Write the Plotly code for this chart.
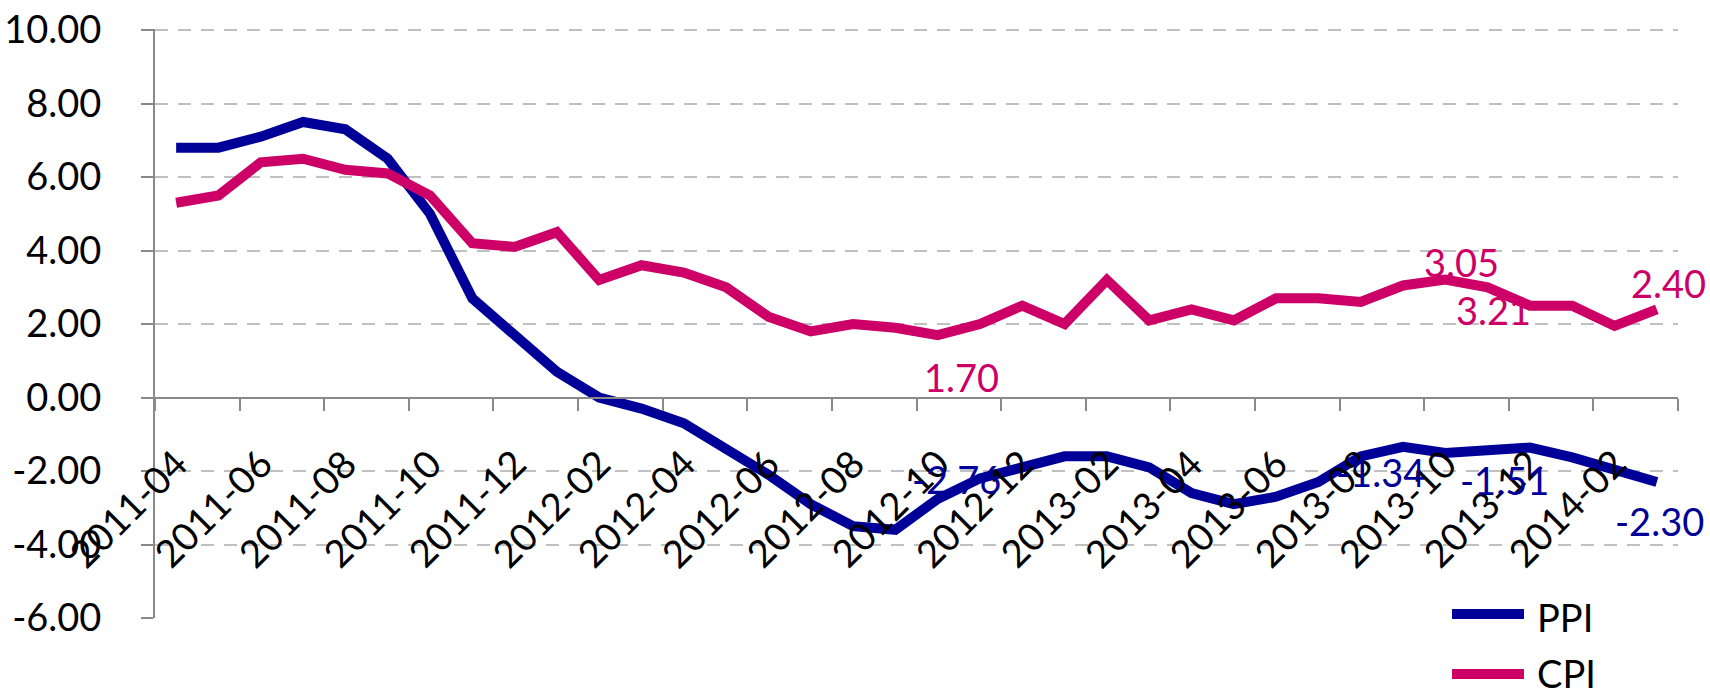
import plotly.graph_objects as go

# ---------------- data ----------------
months = [
    "2011-04", "2011-05", "2011-06", "2011-07", "2011-08", "2011-09",
    "2011-10", "2011-11", "2011-12", "2012-01", "2012-02", "2012-03",
    "2012-04", "2012-05", "2012-06", "2012-07", "2012-08", "2012-09",
    "2012-10", "2012-11", "2012-12", "2013-01", "2013-02", "2013-03",
    "2013-04", "2013-05", "2013-06", "2013-07", "2013-08", "2013-09",
    "2013-10", "2013-11", "2013-12", "2014-01", "2014-02", "2014-03",
]
ppi = [6.8, 6.8, 7.1, 7.5, 7.3, 6.5, 5.0, 2.7, 1.7, 0.7, 0.0, -0.3,
       -0.7, -1.4, -2.1, -2.9, -3.5, -3.6, -2.76, -2.2, -1.9, -1.6, -1.6, -1.9,
       -2.6, -2.9, -2.7, -2.3, -1.6, -1.34, -1.51, -1.42, -1.36, -1.63, -2.0, -2.30]
cpi = [5.3, 5.5, 6.4, 6.5, 6.2, 6.1, 5.5, 4.2, 4.1, 4.5, 3.2, 3.6,
       3.4, 3.0, 2.2, 1.8, 2.0, 1.9, 1.70, 2.0, 2.5, 2.0, 3.2, 2.1,
       2.4, 2.1, 2.7, 2.7, 2.6, 3.05, 3.21, 3.0, 2.5, 2.5, 1.95, 2.40]
series_names = ["PPI", "CPI"]
y_ticks = [-6, -4, -2, 0, 2, 4, 6, 8, 10]
y_tick_labels = [f"{v:.2f}" for v in y_ticks]

ppi_label_idx = [18, 29, 30, 35]
cpi_label_idx = [18, 29, 30, 35]

# ---------------- style ----------------
FONT = "Lato"
FS = 38
C_PPI = "#000099"
C_CPI = "#CC0066"
AXIS_C = "#898989"
GRID_C = "#C0C0C0"
LW = 10

# label pixel offsets (xshift, yshift)
ppi_label_off = [(19, 20), (-23, -25), (59, -27), (3, -39)]
cpi_label_off = [(24, -42), (58, 23), (48, -30), (12, 26)]

n = len(months)
xs = list(range(n))
ymin, ymax = y_ticks[0], y_ticks[-1] + 0.03

W, H = 1710, 696
L, T = 155, 29
R = W - 1678
B = H - 618
pw, ph = W - L - R, H - T - B

def px2x(px):
    return (px - L) / pw

def px2y(py):
    return (H - B - py) / ph

fig = go.Figure()
fig.add_trace(go.Scatter(x=xs, y=ppi, mode="lines", name=series_names[0],
                         line=dict(color=C_PPI, width=LW), showlegend=False))
fig.add_trace(go.Scatter(x=xs, y=cpi, mode="lines", name=series_names[1],
                         line=dict(color=C_CPI, width=LW), showlegend=False))

annotations = []
# category labels (rotated)
for i in range(0, n, 2):
    annotations.append(dict(
        x=i, y=0, xref="x", yref="y", text=months[i], showarrow=False,
        textangle=-45, xanchor="center", yanchor="middle",
        xshift=-49, yshift=-110,
        font=dict(family=FONT, size=FS, color="black")))

# data labels
for idx, (dx, dy) in zip(ppi_label_idx, ppi_label_off):
    annotations.append(dict(
        x=idx, y=ppi[idx], xref="x", yref="y", text=f"{ppi[idx]:.2f}",
        showarrow=False, xanchor="center", yanchor="middle",
        xshift=dx, yshift=dy, font=dict(family=FONT, size=FS, color=C_PPI)))
for idx, (dx, dy) in zip(cpi_label_idx, cpi_label_off):
    annotations.append(dict(
        x=idx, y=cpi[idx], xref="x", yref="y", text=f"{cpi[idx]:.2f}",
        showarrow=False, xanchor="center", yanchor="middle",
        xshift=dx, yshift=dy, font=dict(family=FONT, size=FS, color=C_CPI)))

# legend drawn with long line samples, like the original
shapes = []
legend_rows = [(series_names[0], C_PPI, 614, 617), (series_names[1], C_CPI, 674, 673)]
for name, col, py_line, py_text in legend_rows:
    shapes.append(dict(type="line", xref="paper", yref="paper",
                       x0=px2x(1452), x1=px2x(1524), y0=px2y(py_line), y1=px2y(py_line),
                       line=dict(color=col, width=LW)))
    annotations.append(dict(x=px2x(1535), y=px2y(py_text), xref="paper", yref="paper",
                            text=name, showarrow=False, xanchor="left", yanchor="middle",
                            font=dict(family=FONT, size=FS, color="black")))

fig.update_layout(
    width=W, height=H,
    margin=dict(l=L, r=R, t=T, b=B, pad=0, autoexpand=False),
    plot_bgcolor="white", paper_bgcolor="white",
    font=dict(family=FONT, size=FS, color="black"),
    showlegend=False,
    annotations=annotations,
    shapes=shapes,
    xaxis=dict(
        range=[-0.5, n - 0.5], showgrid=False, zeroline=False,
        tickmode="array", tickvals=[v - 0.5 for v in range(0, n + 1, 2)],
        showticklabels=False, ticks="outside", ticklen=12, tickwidth=2,
        tickcolor=AXIS_C, showline=True, linecolor=AXIS_C, linewidth=2,
        anchor="free", position=(0 - ymin) / (ymax - ymin), automargin=False,
    ),
    yaxis=dict(
        range=[ymin, ymax], tickmode="array", tickvals=y_ticks,
        ticktext=y_tick_labels, showgrid=True, gridcolor=GRID_C, gridwidth=2,
        griddash="13px,10px", zeroline=False, showline=True, linecolor=AXIS_C,
        linewidth=2, ticks="outside", ticklen=12, tickwidth=2, tickcolor=AXIS_C,
        ticklabelstandoff=32, ticklabeloverflow="allow", automargin=False,
        tickfont=dict(family=FONT, size=FS, color="black"),
    ),
)

fig.write_html("out.html",
               config={"displayModeBar": False},
               post_script="document.body.style.margin='0px';")
